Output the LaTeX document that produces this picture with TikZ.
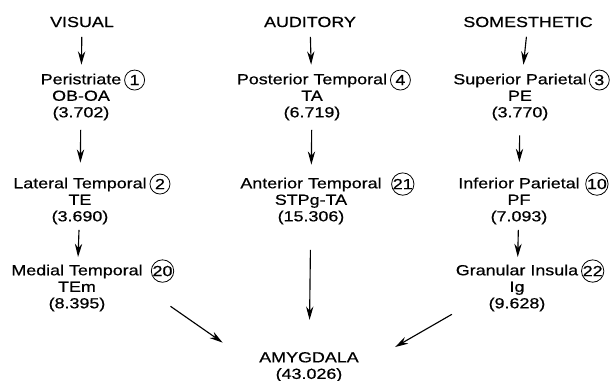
\documentclass[tikz,border=0pt]{standalone}
\usepackage{fontspec}
\setmainfont{Liberation Sans}[FakeStretch=1.22,FakeBold=0.6]
\usetikzlibrary{arrows.meta}

\tikzset{
  title/.style={inner sep=1pt},
  area/.style={align=center, inner sep=1pt},
  num/.style={draw, circle, anchor=west, inner sep=0pt, minimum size=15pt, line width=0.6pt},
  link/.style={-{Stealth[length=10pt,width=5.5pt]}, line width=0.85pt},
}

\begin{document}
\begin{tikzpicture}[x=0.75pt,y=0.75pt,yscale=-1,xscale=1,font=\fontsize{11}{12.4}\selectfont]
\path[use as bounding box] (0,0) rectangle (611,380);

% Text Node
\node[title] (vis) at (82,22) {VISUAL};
% Text Node
\node[title] (aud) at (310,22) {AUDITORY};
% Text Node
\node[title] (som) at (528,22) {SOMESTHETIC};

% Visual stream
\node[area] (peri) at (81,97) {Peristriate\\OB-OA\\(3.702)};
\node[num] (n1) at ([xshift=1pt,yshift=6pt]peri.north east) {1};
\node[area] (lat) at (80,201) {Lateral Temporal\\TE\\(3.690)};
\node[num] (n2) at ([xshift=1pt,yshift=6pt]lat.north east) {2};
\node[area] (med) at (77,288) {Medial Temporal\\TEm\\(8.395)};
\node[num] (n20) at ([xshift=5pt,yshift=6pt]med.north east) {20};

% Auditory stream
\node[area] (post) at (312,97) {Posterior Temporal\\TA\\(6.719)};
\node[num] (n4) at ([xshift=1pt,yshift=6pt]post.north east) {4};
\node[area] (ant) at (311,201) {Anterior Temporal\\STPg-TA\\(15.306)};
\node[num] (n21) at ([xshift=6pt,yshift=6pt]ant.north east) {21};

% Somesthetic stream
\node[area] (sup) at (520,97) {Superior Parietal\\PE\\(3.770)};
\node[num] (n3) at ([xshift=0.5pt,yshift=6pt]sup.north east) {3};
\node[area] (inf) at (519,201) {Inferior Parietal\\PF\\(7.093)};
\node[num] (n10) at ([xshift=3pt,yshift=6pt]inf.north east) {10};
\node[area] (ins) at (517,288) {Granular Insula\\Ig\\(9.628)};
\node[num] (n22) at ([xshift=1pt,yshift=6pt]ins.north east) {22};

% Text Node
\node[area] (amy) at (309,367) {AMYGDALA\\(43.026)};

%Straight Lines
\draw[link, shorten <=6pt, shorten >=5.5pt] (vis) -- (peri);
\draw[link, shorten <=6pt, shorten >=10pt] (peri) -- (lat);
\draw[link, shorten <=3pt, shorten >=4.5pt] (lat) -- (med);
\draw[link, shorten <=24pt, shorten >=32pt] (med.east) -- (amy.west);

\draw[link, shorten <=6pt, shorten >=5.5pt] (aud) -- (post);
\draw[link, shorten <=6pt, shorten >=8.5pt] (post) -- (ant);
\draw[link, shorten <=18pt, shorten >=23pt] (ant) -- (amy);

\draw[link, shorten <=6pt, shorten >=5.5pt] (som) -- (sup);
\draw[link, shorten <=10pt, shorten >=10.5pt] (sup) -- (inf);
\draw[link, shorten <=3pt, shorten >=4.5pt] (inf) -- (ins);
\draw[link, shorten <=2pt, shorten >=30pt] (ins.south west) -- (amy.east);

\end{tikzpicture}
\end{document}
